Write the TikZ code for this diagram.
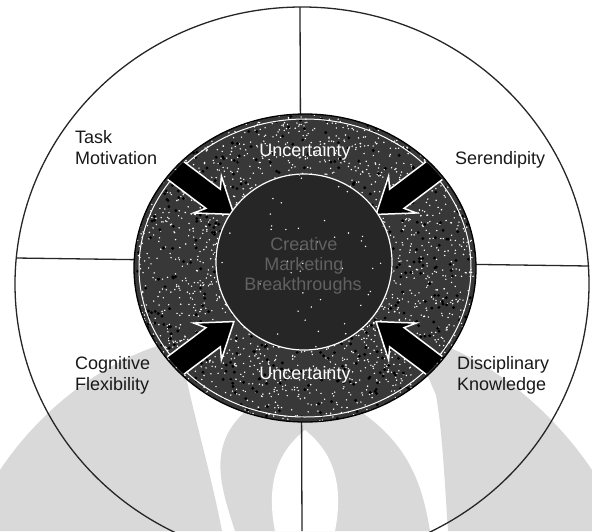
\documentclass[tikz,border=0pt]{standalone}
\usepackage{fontspec}
\setmainfont{Liberation Sans}
\begin{document}
\begin{tikzpicture}[x=1pt,y=-1pt,
  lbl/.style={font=\fontsize{18}{21}\selectfont, inner sep=0pt, text=black!90, anchor=base west},
  unc/.style={font=\fontsize{18}{21}\selectfont, text=white, inner sep=0pt, anchor=base},
  ctr/.style={font=\fontsize{18}{21}\selectfont, text=black!62, inner sep=0pt, anchor=base},
  divider/.style={line width=1.3pt, draw=black!85},
  wm/.style={fill=black!15},
  arrowshape/.style={fill=black, draw=white, line width=1.5pt, line join=miter}]
\useasboundingbox (0,0) rectangle (592,531);
\fill[white] (0,0) rectangle (592,531);
% watermark (light grey)
\fill[wm] (0,470) .. controls (40,410) and (110,350) .. (200,335)
  -- (185,372) .. controls (195,420) and (210,470) .. (222,531) -- (0,531) -- cycle;
\fill[wm] (592,470) .. controls (552,410) and (482,350) .. (410,335)
  -- (436,395) .. controls (442,430) and (444,470) .. (448,531) -- (592,531) -- cycle;
\fill[wm] (235,531) .. controls (215,470) and (200,420) .. (300,380)
  .. controls (400,420) and (420,470) .. (430,531) -- cycle;
\fill[white] (275,531) .. controls (265,480) and (280,450) .. (305,430)
  .. controls (330,450) and (345,480) .. (335,531) -- cycle;
% outer circle and dividers
\coordinate (top) at (300,7);
\coordinate (bot) at (302,531);
\coordinate (lft) at (16,258);
\coordinate (rgt) at (589,266);
\draw[divider] (302,284) ellipse [x radius=287pt, y radius=277pt];
\draw[divider] (top) -- (bot);
\draw[divider] (lft) -- (rgt);
% ring
\fill[black!78] (305,268) ellipse [x radius=171pt, y radius=154pt];
\begin{scope}
  \clip (305,268) ellipse [x radius=171pt, y radius=154pt];
  \pgfmathsetseed{7}
  \foreach \i in {1,...,2600} {
    \pgfmathsetmacro{\px}{305+171*rand}
    \pgfmathsetmacro{\py}{268+154*rand}
    \fill[white] (\px,\py) circle [radius=0.8pt];
  }
  \foreach \i in {1,...,700} {
    \pgfmathsetmacro{\px}{305+171*rand}
    \pgfmathsetmacro{\py}{268+154*rand}
    \fill[black] (\px,\py) circle [radius=1.6pt];
  }
\end{scope}
\draw[black, line width=1.3pt] (305,268) ellipse [x radius=171pt, y radius=154pt];
\draw[white, line width=1pt] (305,268) ellipse [x radius=166pt, y radius=149pt];
% arrows
\begin{scope}
  \clip (305,268) ellipse [x radius=169pt, y radius=152pt];
  \foreach \a in {37,143,217,323} {
    \filldraw[arrowshape, shift={(305,268)}, rotate=\a]
      (89,0) -- (122,23) -- (115,12) -- (200,12) -- (200,-12) -- (115,-12) -- (122,-23) -- cycle;
  }
\end{scope}
% inner disk
\filldraw[fill=black!85, draw=white, line width=1.2pt] (304,262) circle [radius=88pt];
\begin{scope}
  \clip (304,262) circle [radius=87pt];
  \pgfmathsetseed{3}
  \foreach \i in {1,...,60} {
    \pgfmathsetmacro{\px}{304+88*rand}
    \pgfmathsetmacro{\py}{262+88*rand}
    \fill[white] (\px,\py) circle [radius=0.8pt];
  }
\end{scope}
% texts
\node[unc] (u1) at (305,156) {Uncertainty};
\node[unc] (u2) at (305,379) {Uncertainty};
\node[ctr] (c1) at (304,250) {Creative};
\node[ctr] (c2) at (304,270) {Marketing};
\node[ctr] (c3) at (303,290) {Breakthroughs};
\node[lbl] (task) at (75,143) {Task};
\node[lbl] (motiv) at (75,164) {Motivation};
\node[lbl] (seren) at (455,164) {Serendipity};
\node[lbl] (cogn) at (75,369) {Cognitive};
\node[lbl] (flex) at (75,390) {Flexibility};
\node[lbl] (disc) at (457,369) {Disciplinary};
\node[lbl] (know) at (457,390) {Knowledge};
\end{tikzpicture}
\end{document}
